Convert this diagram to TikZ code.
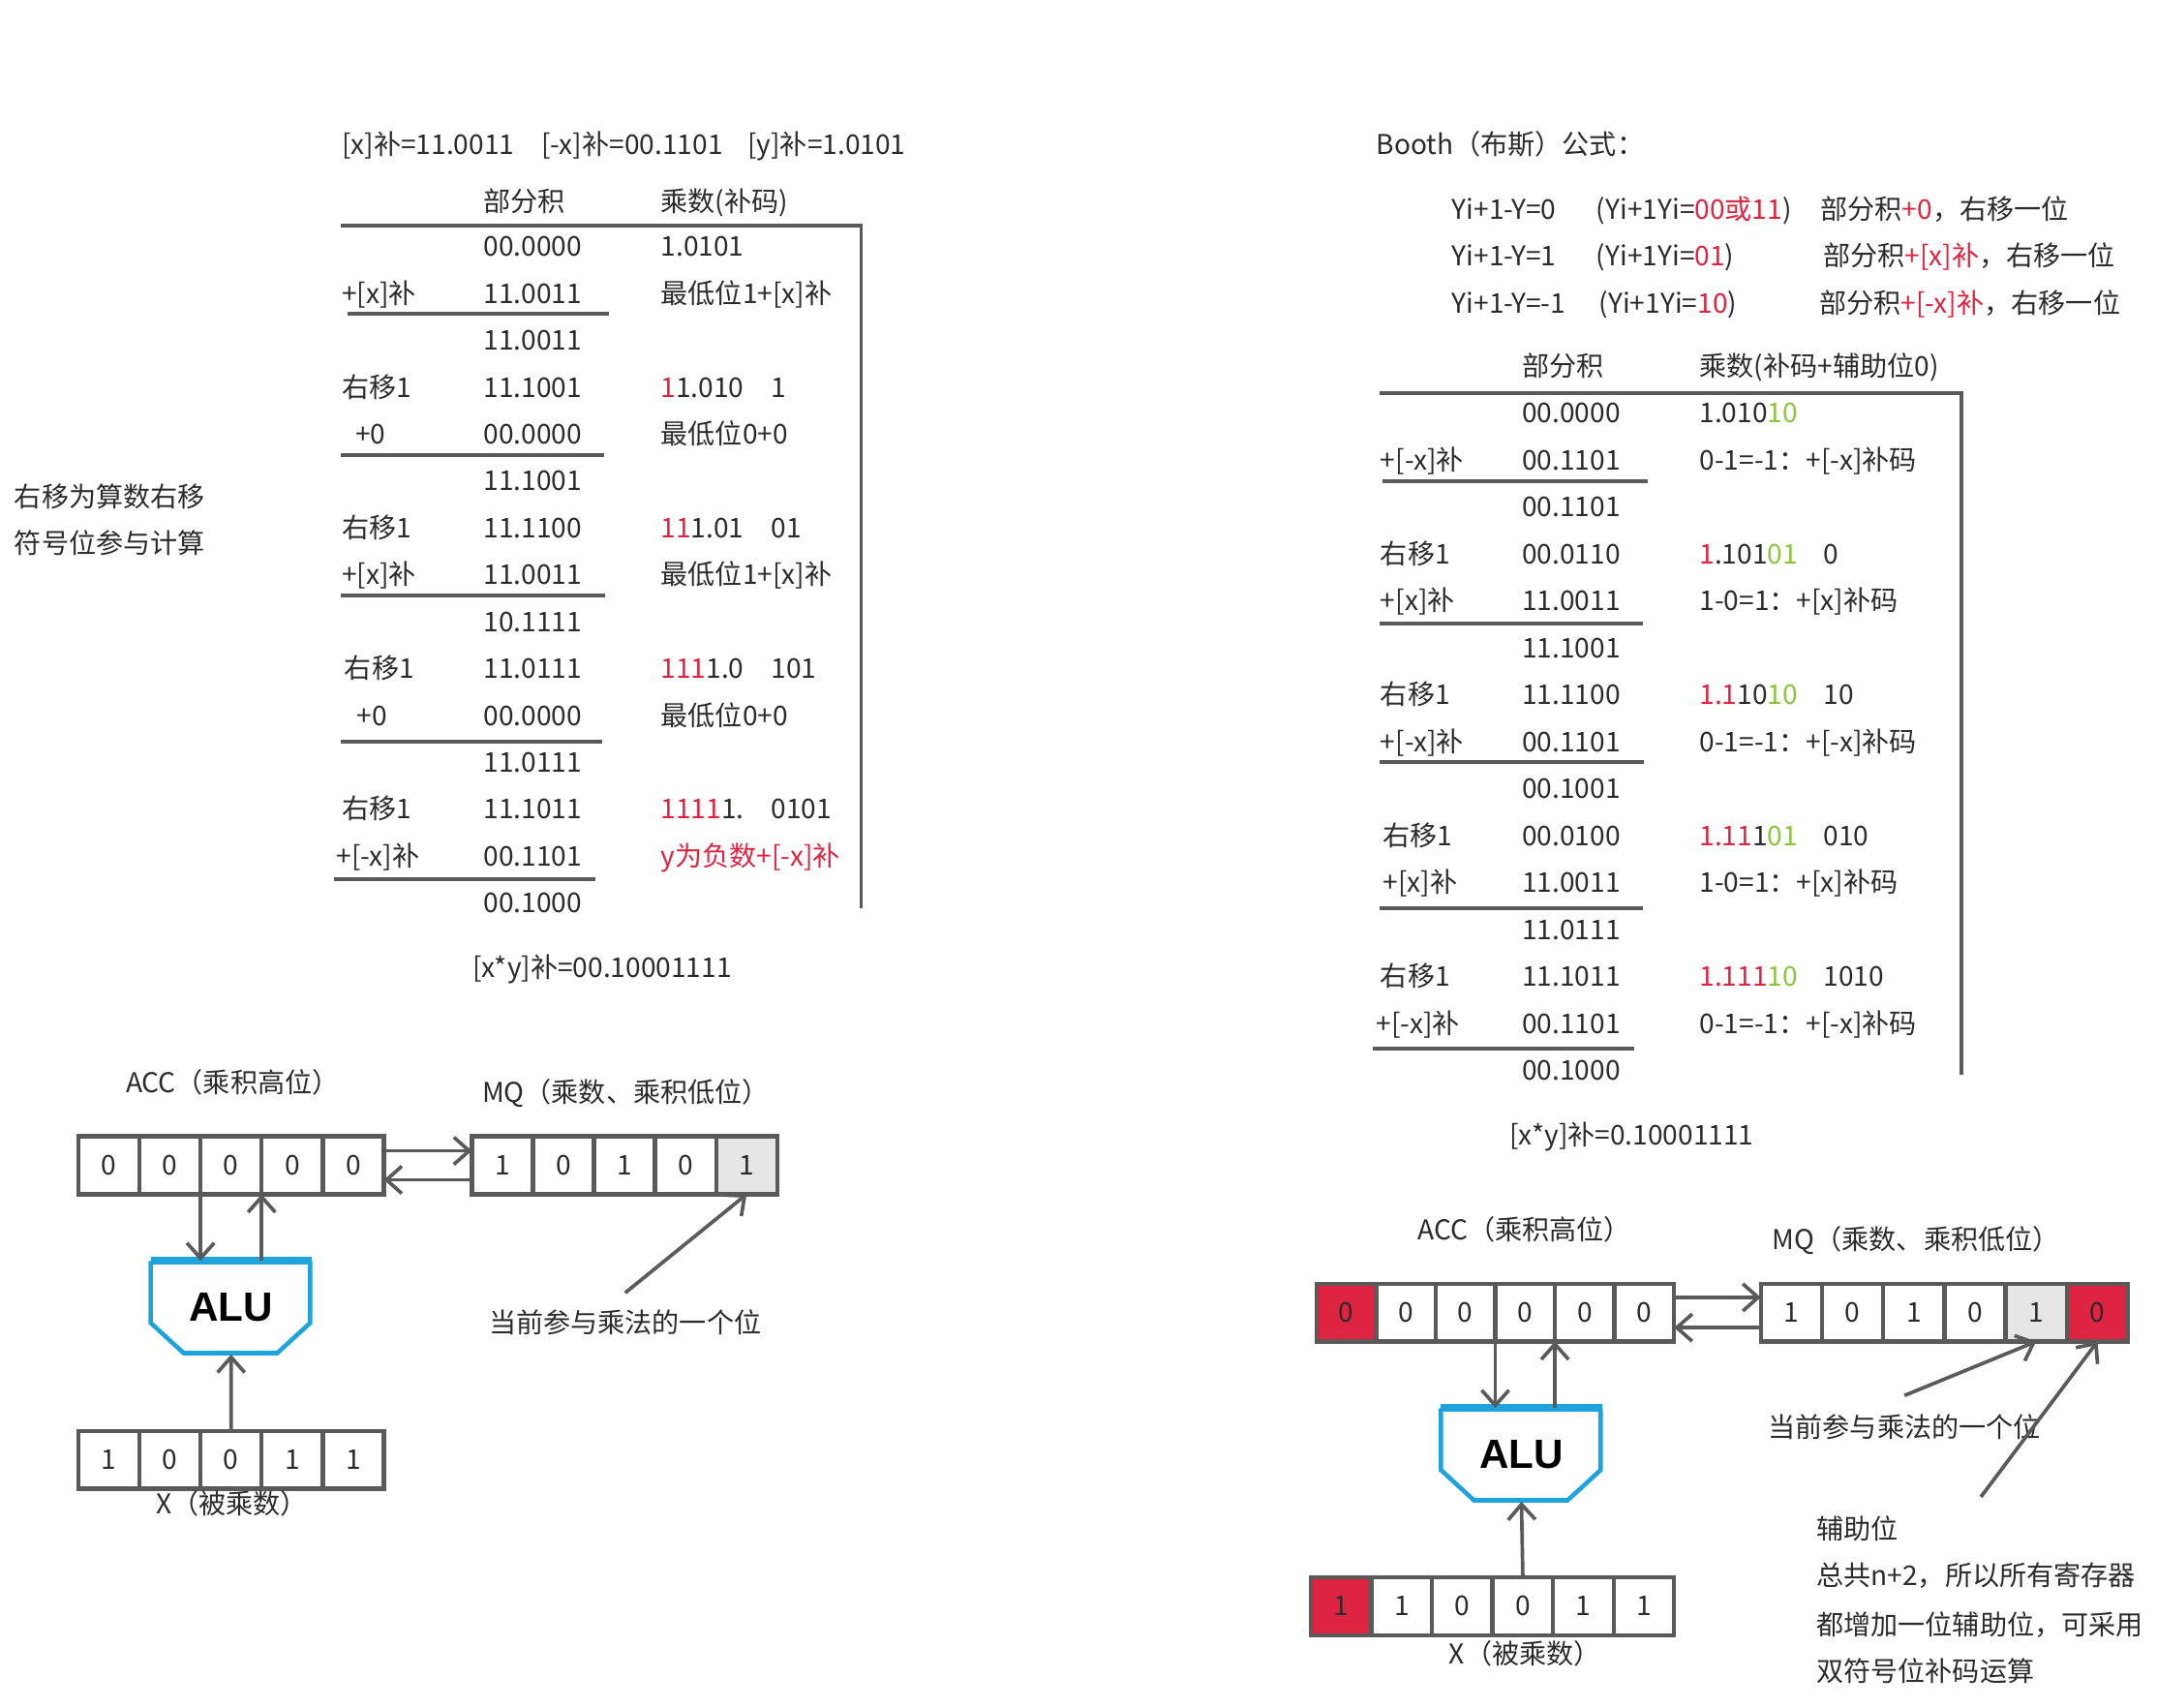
\documentclass[tikz,border=0pt]{standalone}
\usepackage{fontspec}
\setmainfont{Noto Sans CJK SC}
\newfontfamily\alufont{Liberation Sans}
\usepackage{xcolor}
\usetikzlibrary{arrows.meta}
\definecolor{TextDark}{HTML}{2B2B2B}
\definecolor{RuleGrey}{HTML}{5A5A5A}
\definecolor{MarkRed}{HTML}{DE2440}
\definecolor{MarkGreen}{HTML}{8CC63F}
\definecolor{AluBlue}{HTML}{1FA3DD}
\definecolor{CellShade}{HTML}{E6E6E6}
\newcommand{\redbit}[1]{\textcolor{MarkRed}{#1}}
\newcommand{\grnbit}[1]{\textcolor{MarkGreen}{#1}}
\tikzset{
  txt/.style     = {anchor=west, inner sep=0pt, text height=6pt, text depth=0pt,
                    font=\fontsize{8}{10}\selectfont, text=TextDark},
  rule/.style    = {draw=RuleGrey, line width=1.1pt},
  cell/.style    = {draw=RuleGrey, line width=1.25pt, inner sep=0pt, outer sep=0pt,
                    minimum height=5.97mm, font=\fontsize{8}{10}\selectfont, text=TextDark},
  alubox/.style  = {inner sep=0pt, minimum width=16.48mm, minimum height=9.52mm,
                    font=\alufont\bfseries\fontsize{12}{14}\selectfont, text=black},
  aluline/.style = {draw=AluBlue, line width=1.3pt, line join=miter},
  flow/.style    = {-{Straight Barb[length=4.5pt,width=8pt]}, draw=RuleGrey, line width=1.05pt},
}

\begin{document}
\begin{tikzpicture}[x=0.14209mm, y=-0.14209mm]

  \useasboundingbox (0,0) rectangle (1568,1241);

  % original (one-bit) method
  \node[txt] (xcomp)  at (248,105) {[x]补=11.0011};
  \node[txt] (nxcomp) at (393,105) {[-x]补=00.1101};
  \node[txt] (ycomp)  at (543,105) {[y]补=1.0101};

  \node[txt] (headPA) at (351,146) {部分积};
  \node[txt] (headMA) at (480,146) {乘数(补码)};
  \draw[rule] (248,164) -- (626,164) -- (626,660);

  \foreach \lx/\lab/\prod/\mul/\tail [count=\i from 0] in {
      248/{}/00.0000/1.0101/{},
      248/+[x]补/11.0011/最低位1+[x]补/{},
      248/{}/11.0011/{}/{},
      248/右移1/11.1001/{\redbit{1}1.010}/1,
      258/+0/00.0000/最低位0+0/{},
      248/{}/11.1001/{}/{},
      248/右移1/11.1100/{\redbit{11}1.01}/01,
      248/+[x]补/11.0011/最低位1+[x]补/{},
      248/{}/10.1111/{}/{},
      250/右移1/11.0111/{\redbit{111}1.0}/101,
      259/+0/00.0000/最低位0+0/{},
      248/{}/11.0111/{}/{},
      248/右移1/11.1011/{\redbit{1111}1.}/0101,
      244/+[-x]补/00.1101/{\redbit{y为负数+[-x]补}}/{},
      248/{}/00.1000/{}/{}}{
    \node[txt] (lA\i) at (\lx,{179+34.07*\i}) {\lab};
    \node[txt] (pA\i) at (351,{179+34.07*\i}) {\prod};
    \node[txt] (mA\i) at (480,{179+34.07*\i}) {\mul};
    \node[txt] (tA\i) at (560,{179+34.07*\i}) {\tail};
  }

  \draw[rule] (253,228) -- (443,228);
  \draw[rule] (248,331) -- (439,331);
  \draw[rule] (248,433) -- (440,433);
  \draw[rule] (248,539) -- (438,539);
  \draw[rule] (243,639) -- (433,639);

  \node[txt] (resA) at (343,703) {[x*y]补=00.10001111};

  \node[txt] (noteL1) at (10,361) {右移为算数右移};
  \node[txt] (noteL2) at (10,395) {符号位参与计算};

  % Booth method
  \node[txt] (booth) at (1000,105) {Booth（布斯）公式：};

  \node[txt] (rulA1) at (1055,152) {Yi+1-Y=0};
  \node[txt] (rulA2) at (1160,152) {(Yi+1Yi=\redbit{00或11})};
  \node[txt] (rulA3) at (1323,152) {部分积\redbit{+0}，右移一位};
  \node[txt] (rulB1) at (1055,186) {Yi+1-Y=1};
  \node[txt] (rulB2) at (1160,186) {(Yi+1Yi=\redbit{01})};
  \node[txt] (rulB3) at (1325,186) {部分积\redbit{+[x]补}，右移一位};
  \node[txt] (rulC1) at (1055,220) {Yi+1-Y=-1};
  \node[txt] (rulC2) at (1162,220) {(Yi+1Yi=\redbit{10})};
  \node[txt] (rulC3) at (1322,220) {部分积\redbit{+[-x]补}，右移一位};

  \node[txt] (headPB) at (1106,266) {部分积};
  \node[txt] (headMB) at (1235,266) {乘数(补码+辅助位0)};
  \draw[rule] (1003,286) -- (1426,286) -- (1426,781);

  \foreach \lx/\lab/\prod/\mul/\tail [count=\i from 0] in {
      1003/{}/00.0000/{1.010\grnbit{10}}/{},
      1003/+[-x]补/00.1101/0-1=-1：+[-x]补码/{},
      1003/{}/00.1101/{}/{},
      1003/右移1/00.0110/{\redbit{1}.101\grnbit{01}}/0,
      1003/+[x]补/11.0011/1-0=1：+[x]补码/{},
      1003/{}/11.1001/{}/{},
      1003/右移1/11.1100/{\redbit{1.1}10\grnbit{10}}/10,
      1003/+[-x]补/00.1101/0-1=-1：+[-x]补码/{},
      1003/{}/00.1001/{}/{},
      1005/右移1/00.0100/{\redbit{1.11}1\grnbit{01}}/010,
      1005/+[x]补/11.0011/1-0=1：+[x]补码/{},
      1003/{}/11.0111/{}/{},
      1003/右移1/11.1011/{\redbit{1.111}\grnbit{10}}/1010,
      1000/+[-x]补/00.1101/0-1=-1：+[-x]补码/{},
      1003/{}/00.1000/{}/{}}{
    \node[txt] (lB\i) at (\lx,{300+34.14*\i}) {\lab};
    \node[txt] (pB\i) at (1106,{300+34.14*\i}) {\prod};
    \node[txt] (mB\i) at (1235,{300+34.14*\i}) {\mul};
    \node[txt] (tB\i) at (1325,{300+34.14*\i}) {\tail};
  }

  \draw[rule] (1005,350) -- (1198,350);
  \draw[rule] (1003,453) -- (1194,453);
  \draw[rule] (1003,554) -- (1195,554);
  \draw[rule] (1003,660) -- (1194,660);
  \draw[rule] (998,762)  -- (1188,762);

  \node[txt] (resB) at (1097,825) {[x*y]补=0.10001111};

  % left hardware
  \node[txt] (accLabA) at (91,787)  {ACC（乘积高位）};
  \node[txt] (mqLabA)  at (350,794) {MQ（乘数、乘积低位）};

  \foreach \v [count=\i] in {0,0,0,0,0}
    \node[cell, minimum width=6.31mm] (accA\i) at ({57+44.4*(\i-0.5)},847) {\v};
  \foreach \v/\f [count=\i] in {1/white,0/white,1/white,0/white,1/CellShade}
    \node[cell, fill=\f, minimum width=6.31mm] (mqA\i) at ({343+44.4*(\i-0.5)},847) {\v};
  \foreach \v [count=\i] in {1,0,0,1,1}
    \node[cell, minimum width=6.31mm] (xA\i) at ({57+44.4*(\i-0.5)},1061) {\v};

  \node[alubox] (aluA) at (168,950.5) {ALU};
  \draw[aluline] (aluA.north west) -- ++(0,45) -- ++(24,22) -- ++(68,0) -- ++(24,-22) -- ++(0,-45);
  \draw[aluline, line width=2.3pt] (aluA.north west) -- (aluA.north east);

  \node[txt] (xLabA) at (113,1093) {X（被乘数）};
  \node[txt] (noteA) at (355,961)  {当前参与乘法的一个位};

  \draw[flow] ([yshift=1.5mm]accA5.east) -- ([yshift=1.5mm]mqA1.west);
  \draw[flow] ([yshift=-1.5mm]mqA1.west) -- ([yshift=-1.5mm]accA5.east);
  \draw[flow] (accA3.south west) -- (accA3.south west |- aluA.north);
  \draw[flow] (accA3.south east |- aluA.north) -- (accA3.south east);
  \draw[flow] (xA3.north) -- (aluA.south);
  \draw[flow] ([yshift=1.9mm]noteA.north) -- (mqA5.south);

  % right hardware
  \node[txt] (accLabB) at (1030,894) {ACC（乘积高位）};
  \node[txt] (mqLabB)  at (1288,901) {MQ（乘数、乘积低位）};

  \foreach \v/\f [count=\i] in {0/MarkRed,0/white,0/white,0/white,0/white,0/white}
    \node[cell, fill=\f, minimum width=6.16mm] (accB\i) at ({957+43.33*(\i-0.5)},954) {\v};
  \foreach \v/\f [count=\i] in {1/white,0/white,1/white,0/white,1/CellShade,0/MarkRed}
    \node[cell, fill=\f, minimum width=6.32mm] (mqB\i) at ({1280+44.5*(\i-0.5)},954) {\v};
  \foreach \v/\f [count=\i] in {1/MarkRed,1/white,0/white,0/white,1/white,1/white}
    \node[cell, fill=\f, minimum width=6.25mm] (xB\i) at ({953+44*(\i-0.5)},1167.5) {\v};

  \node[alubox] (aluB) at (1106,1057.5) {ALU};
  \draw[aluline] (aluB.north west) -- ++(0,45) -- ++(24,22) -- ++(68,0) -- ++(24,-22) -- ++(0,-45);
  \draw[aluline, line width=2.3pt] (aluB.north west) -- (aluB.north east);

  \node[txt] (xLabB) at (1053,1202) {X（被乘数）};
  \node[txt] (noteB) at (1285,1037) {当前参与乘法的一个位};
  \coordinate (auxTail) at (1440,1088);

  \node[txt] (auxL1) at (1320,1111) {辅助位};
  \node[txt] (auxL2) at (1320,1145) {总共n+2，所以所有寄存器};
  \node[txt] (auxL3) at (1320,1181) {都增加一位辅助位，可采用};
  \node[txt] (auxL4) at (1320,1215) {双符号位补码运算};

  \draw[flow] ([yshift=1.56mm]accB6.east) -- ([yshift=1.56mm]mqB1.west);
  \draw[flow] ([yshift=-1.56mm]mqB1.west) -- ([yshift=-1.56mm]accB6.east);
  \draw[flow] (accB4.south west) -- (accB4.south west |- aluB.north);
  \draw[flow] (accB4.south east |- aluB.north) -- (accB4.south east);
  \draw[flow] (xB4.north) -- (aluB.south);
  \draw[flow] ([yshift=2.1mm]noteB.north) -- (mqB5.south);
  \draw[flow] (auxTail) -- (mqB6.south);

\end{tikzpicture}
\end{document}
